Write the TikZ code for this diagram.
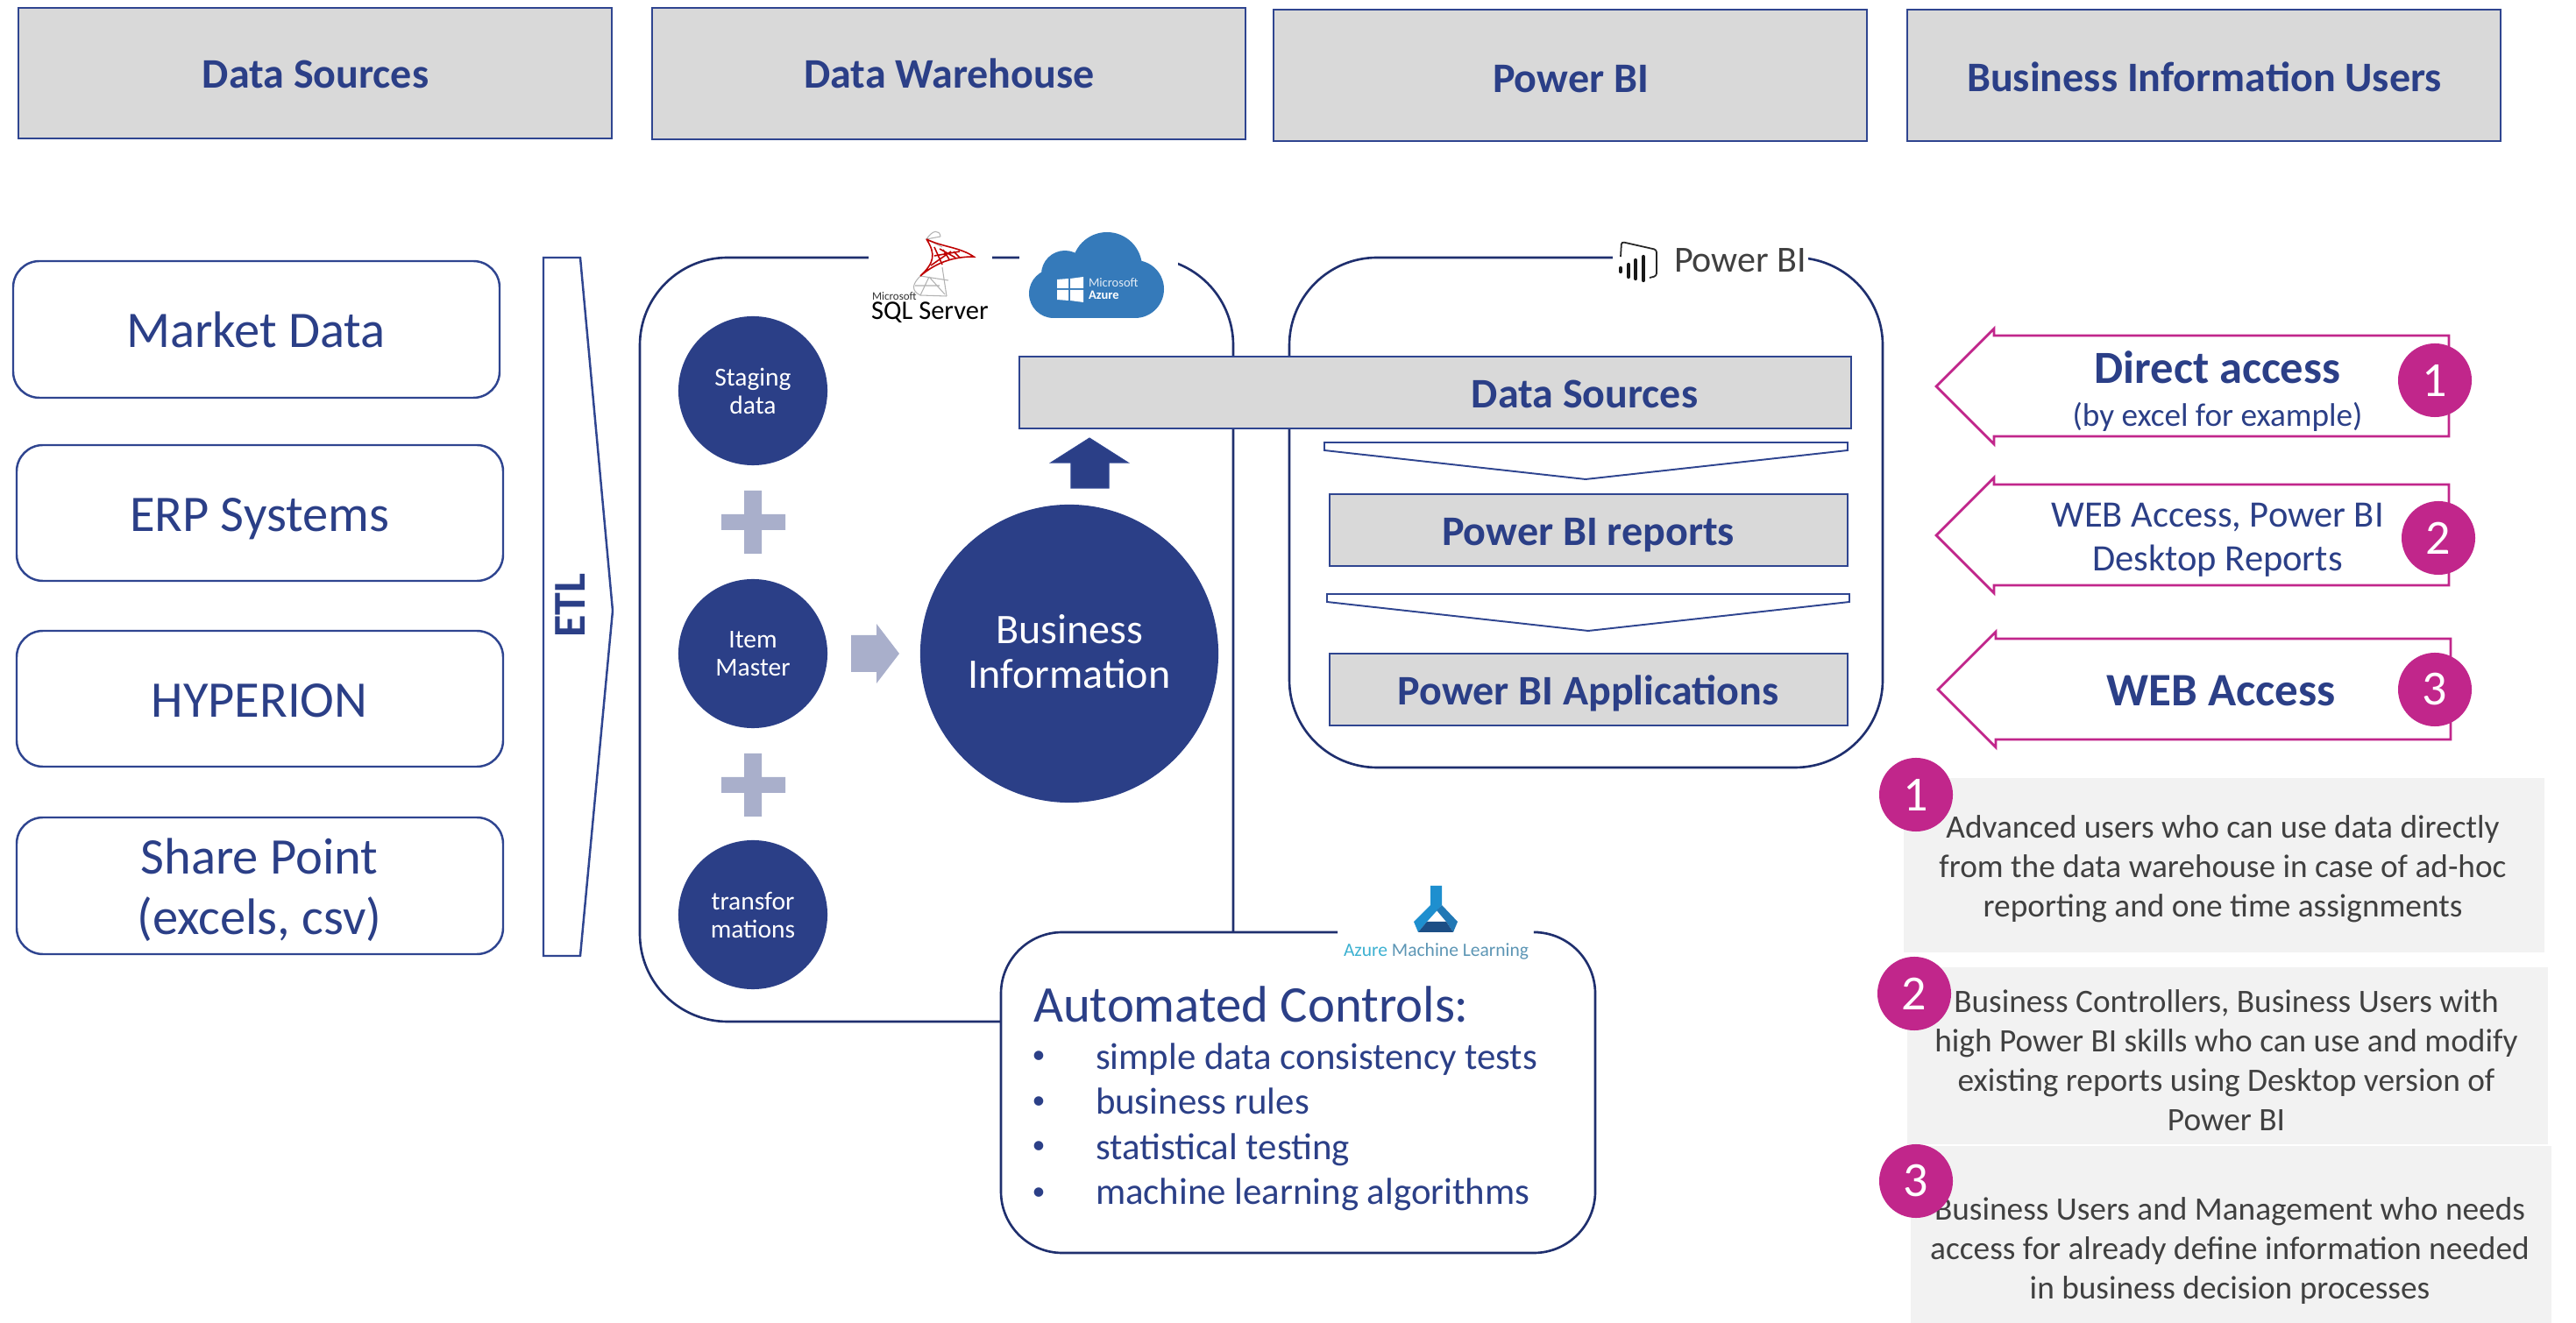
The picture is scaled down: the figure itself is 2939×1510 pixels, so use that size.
\documentclass[tikz,border=0pt]{standalone}
\usepackage{fontspec}
\setmainfont{Carlito}
\definecolor{navy}{HTML}{2B3F87}
\definecolor{edge}{HTML}{2F4590}
\definecolor{arcline}{HTML}{1F2F6E}
\definecolor{boxgray}{HTML}{D9D9D9}
\definecolor{lilac}{HTML}{A9AFCB}
\definecolor{pink}{HTML}{C1268B}
\definecolor{panel}{HTML}{F2F2F2}
\definecolor{bodytext}{HTML}{404040}
\definecolor{azureblue}{HTML}{357ABA}
\definecolor{mlleft}{HTML}{1E8FCF}
\definecolor{mlright}{HTML}{2178B5}
\definecolor{mlbase}{HTML}{1C4E85}
\newcommand\fpx[2]{\pgfmathsetmacro\fa{#1*0.28453}\pgfmathsetmacro\fb{#2*0.28453}\fontsize{\fa pt}{\fb pt}\selectfont}
\newcommand\boxat[7]{% style, name, x1,y1,x2,y2, text
  \pgfmathsetmacro\bw{(#5-#3)*0.01}\pgfmathsetmacro\bh{(#6-#4)*0.01}
  \pgfmathsetmacro\bx{(#3+#5)/2}\pgfmathsetmacro\by{(#4+#6)/2}
  \node[#1,minimum width=\bw cm,minimum height=\bh cm] (#2) at (\bx,\by) {#7};}
\tikzset{
  every node/.style={inner sep=0pt,outer sep=0pt},
  header/.style={draw=edge,line width=0.7pt,fill=boxgray},
  source/.style={draw=edge,line width=0.7pt,fill=white,rounded corners=0.3cm},
  sourcetext/.style={text=navy,align=center,font=\fpx{58.5}{69}},
  bigframe/.style={draw=arcline,line width=0.75pt,rounded corners=1cm},
  graybar/.style={draw=edge,line width=0.7pt,fill=boxgray},
  bartext/.style={text=navy,font=\fpx{48}{56}\bfseries},
  dot/.style={circle,fill=navy,text=white,align=center,font=\fpx{29.5}{32}},
  plusmark/.style={fill=lilac,draw=none},
  pinkarrow/.style={draw=pink,line width=0.8pt,fill=white},
  pinkdot/.style={circle,fill=pink,minimum size=0.84cm,text=white,font=\fpx{56}{60}},
  arrowlabel/.style={text=navy,align=center},
  paneltext/.style={text=bodytext,align=center,font=\fpx{37.3}{45}},
  chevron/.style={draw=edge,line width=0.55pt,fill=white},
  listitem/.style={text=navy,anchor=base west,font=\fpx{42.8}{50}},
  bulletmark/.style={text=navy,anchor=center,font=\fpx{30}{34}},
}
\begin{document}
\begin{tikzpicture}[x=0.01cm,y=-0.01cm]
\useasboundingbox (0,0) rectangle (2939,1510);
% headers
\boxat{header}{h1}{21}{9}{698}{158}{}
\boxat{header}{h2}{744}{9}{1421}{159}{}
\boxat{header}{h3}{1453}{11}{2130}{161}{}
\boxat{header}{h4}{2176}{11}{2853}{161}{}
\node[bartext] (h1t) at (360,85) {Data Sources};
\node[bartext] (h2t) at (1083,84) {Data Warehouse};
\node[bartext] (h3t) at (1792,90) {Power BI};
\node[bartext] (h4t) at (2515,88) {Business Information Users};
% sources
\boxat{source}{s1}{15}{298}{570}{454}{}
\boxat{source}{s2}{19}{508}{574}{663}{}
\boxat{source}{s3}{19}{720}{574}{875}{}
\boxat{source}{s4}{19}{933}{574}{1089}{}
\node[sourcetext] (s1t) at (292,376) {Market Data};
\node[sourcetext] (s2t) at (296,592) {ERP Systems};
\node[sourcetext] (s3t) at (296,800) {HYPERION};
\node[sourcetext] (s4t) at (296,1016) {Share Point\\(excels, csv)};
% ETL
\draw[draw=edge,line width=0.7pt,fill=white] (620,294) -- (662,294) -- (699,697) -- (662,1091) -- (620,1091) -- cycle;
\node[text=navy,rotate=90,font=\fpx{52}{56}\bfseries] (etl) at (651,691) {ETL};
% frames
\draw[bigframe] (1407,1200) -- (1407,294) -- (730,294) -- (730,1166) -- (1407,1166) -- (1407,1100);
\draw[bigframe] (1471,500) -- (1471,294) -- (2148,294) -- (2148,876) -- (1471,876) -- (1471,500);
% logo backgrounds
\fill[white] (991,270) rectangle (1132,370);
\fill[white] (1163,255) rectangle (1344,400);
\fill[white] (1840,270) rectangle (2063,340);
% SQL logo
\begin{scope}[line width=0.3pt,draw=gray!60]
\draw (1057,273) .. controls (1064,262) and (1072,262) .. (1073,270);
\draw (1050,315) .. controls (1040,325) and (1040,332) .. (1050,337) -- (1080,338);
\draw (1060,316) -- (1078,336) (1075,305) -- (1080,338) (1050,315) -- (1082,320) (1044,326) -- (1072,326) (1060,316) -- (1050,337);
\draw (1073,270) -- (1057,273) -- (1075,282);
\end{scope}
\begin{scope}[line width=0.45pt,draw=red!75!black]
\draw (1057,273) .. controls (1075,282) and (1095,282) .. (1111,293) .. controls (1090,293) and (1070,298) .. (1050,315) .. controls (1066,300) and (1068,290) .. (1057,273);
\draw (1066,282) -- (1075,302) (1076,285) -- (1083,296) (1088,287) -- (1095,294) (1066,292) -- (1095,287) (1062,303) -- (1085,287) (1072,284) -- (1090,294);
\end{scope}
\node[text=black!80,anchor=west,font=\fpx{13}{15}] (sqlms) at (995,338) {Microsoft};
\node[text=black,anchor=west,font=\fpx{30.5}{34}] (sqltxt) at (994,357) {SQL Server};
% Azure cloud
\fill[azureblue] (1263,305) circle (40);
\fill[azureblue] (1215,313) circle (27);
\fill[azureblue] (1295,330) circle (33);
\fill[azureblue] (1202,335) circle (28);
\fill[azureblue] (1202,315) rectangle (1295,363);
\fill[white] (1206,319) -- (1219,318) -- (1219,329) -- (1206,329) -- cycle;
\fill[white] (1221,318) -- (1236,316) -- (1236,329) -- (1221,329) -- cycle;
\fill[white] (1206,331) -- (1219,331) -- (1219,343) -- (1206,342) -- cycle;
\fill[white] (1221,331) -- (1236,331) -- (1236,345) -- (1221,343) -- cycle;
\node[text=white!85!azureblue,anchor=west,font=\fpx{14.5}{16}] (azms) at (1242,323) {Microsoft};
\node[text=white,anchor=west,font=\fpx{14.5}{16}\bfseries] (azaz) at (1242,337) {Azure};
% Power BI logo
\draw[black!85,line width=0.5pt,rounded corners=0.03cm] (1849,293) -- (1850,276) -- (1890,285) -- (1890,315) -- (1882,317);
\draw[black!90,line width=1.2pt,line cap=round] (1849,306) -- (1849,310) (1858,302) -- (1858,316) (1866,297) -- (1866,318) (1875,293) -- (1875,320);
\node[text=black!75,anchor=west,font=\fpx{42}{44}] (pbitxt) at (1910,297) {Power BI};
% left circles
\node[dot,minimum size=1.7cm] (c1) at (859,446) {Staging\\data};
\node[dot,minimum size=1.7cm] (c2) at (859,746) {Item\\Master};
\node[dot,minimum size=1.7cm] (c3) at (859,1044) {transfor\\mations};
\node[circle,fill=navy,minimum size=3.4cm] (bi) at (1220,746) {};
\node[text=white,align=center,font=\fpx{48}{51}] (bit) at (1220,744) {Business\\Information};
% plus signs
\path[plusmark] (849,560)--(869,560)--(869,587)--(896,587)--(896,605)--(869,605)--(869,632)--(849,632)--(849,605)--(823,605)--(823,587)--(849,587)--cycle;
\path[plusmark] (849,860)--(869,860)--(869,887)--(896,887)--(896,905)--(869,905)--(869,932)--(849,932)--(849,905)--(823,905)--(823,887)--(849,887)--cycle;
% arrows
\path[plusmark] (971,725) -- (1000,725) -- (1000,712) -- (1026,746) -- (1000,780) -- (1000,767) -- (971,767) -- cycle;
\draw[fill=navy,draw=edge,line width=0.3pt] (1222,557) -- (1222,528) -- (1199,528) -- (1243,500) -- (1287,528) -- (1265,528) -- (1265,557) -- cycle;
% Data sources bar
\boxat{graybar}{b1}{1163}{407}{2112}{489}{}
\node[bartext] (b1t) at (1808,450) {Data Sources};
\draw[chevron] (1511,505) -- (2108,505) -- (2108,514) -- (1809,547) -- (1511,514) -- cycle;
\boxat{graybar}{b2}{1517}{564}{2108}{646}{}
\node[bartext] (b2t) at (1812,611) {Power BI reports};
\draw[chevron] (1514,678) -- (2110,678) -- (2110,687) -- (1812,720) -- (1514,687) -- cycle;
\boxat{graybar}{b3}{1517}{746}{2108}{828}{}
\node[bartext] (b3t) at (1812,791) {Power BI Applications};
% Automated controls
\fill[white,rounded corners=0.7cm] (1142,1064) rectangle (1820,1430);
\draw[draw=arcline,line width=0.75pt,rounded corners=0.7cm] (1526,1064) -- (1142,1064) -- (1142,1430) -- (1820,1430) -- (1820,1064) -- (1755,1064);
% Azure ML logo
\fill[mlleft] (1632,1011) -- (1645,1011) -- (1645,1033) -- (1628,1052) -- (1618,1064) -- (1613,1052) -- (1632,1033) -- cycle;
\fill[mlright] (1645,1033) -- (1663,1052) -- (1658,1064) -- (1650,1052) -- (1639,1039) -- cycle;
\fill[mlbase] (1628,1052) -- (1650,1052) -- (1658,1064) -- (1618,1064) -- cycle;
\node[anchor=west,font=\fpx{21.5}{24}] (amltxt) at (1533,1086) {\textcolor[HTML]{3DB1D1}{Azure} \textcolor[HTML]{5D96B5}{Machine Learning}};
\node[text=navy,anchor=west,font=\fpx{58.7}{60}] (actitle) at (1179,1146) {Automated Controls:};
\node[bulletmark] (b1a) at (1185,1207) {•};
\node[bulletmark] (b2a) at (1185,1259) {•};
\node[bulletmark] (b3a) at (1185,1310) {•};
\node[bulletmark] (b4a) at (1185,1363) {•};
\node[listitem] (l1) at (1250,1220) {simple data consistency tests};
\node[listitem] (l2) at (1250,1271.5) {business rules};
\node[listitem] (l3) at (1250,1323) {statistical testing};
\node[listitem] (l4) at (1250,1374.5) {machine learning algorithms};
% pink arrows
\draw[pinkarrow] (2209,441) -- (2275,375) -- (2275,383) -- (2794,383) -- (2794,498) -- (2275,498) -- (2275,507) -- cycle;
\draw[pinkarrow] (2209,611) -- (2275,545) -- (2275,553) -- (2794,553) -- (2794,668) -- (2275,668) -- (2275,677) -- cycle;
\draw[pinkarrow] (2211,787) -- (2277,721) -- (2277,729) -- (2796,729) -- (2796,844) -- (2277,844) -- (2277,853) -- cycle;
\node[arrowlabel,font=\fpx{52.5}{56}\bfseries] (a1a) at (2530,419) {Direct access};
\node[arrowlabel,font=\fpx{37.2}{40}] (a1b) at (2530,476) {(by excel for example)};
\node[arrowlabel,font=\fpx{42.5}{50}] (a2) at (2530,616) {WEB Access, Power BI\\Desktop Reports};
\node[arrowlabel,font=\fpx{53}{56}\bfseries] (a3) at (2534,789) {WEB Access};
\node[pinkdot] (p1) at (2778,434) {1};
\node[pinkdot] (p2) at (2782,614) {2};
\node[pinkdot] (p3) at (2778,787) {3};
% panels
\fill[panel] (2172,888) rectangle (2903,1087);
\fill[panel] (2176,1104) rectangle (2907,1306);
\fill[panel] (2180,1308) rectangle (2911,1510);
\node[paneltext] (t1) at (2536,992) {Advanced users who can use data directly\\from the data warehouse in case of ad-hoc\\reporting and one time assignments};
\node[paneltext] (t2) at (2540,1210) {Business Controllers, Business Users with\\high Power BI skills who can use and modify\\existing reports using Desktop version of\\Power BI};
\node[paneltext] (t3) at (2544,1428) {Business Users and Management who needs\\access for already define information needed\\in business decision processes};
\node[pinkdot] (q1) at (2186,907) {1};
\node[pinkdot] (q2) at (2184,1134) {2};
\node[pinkdot] (q3) at (2186,1348) {3};
\end{tikzpicture}
\end{document}
